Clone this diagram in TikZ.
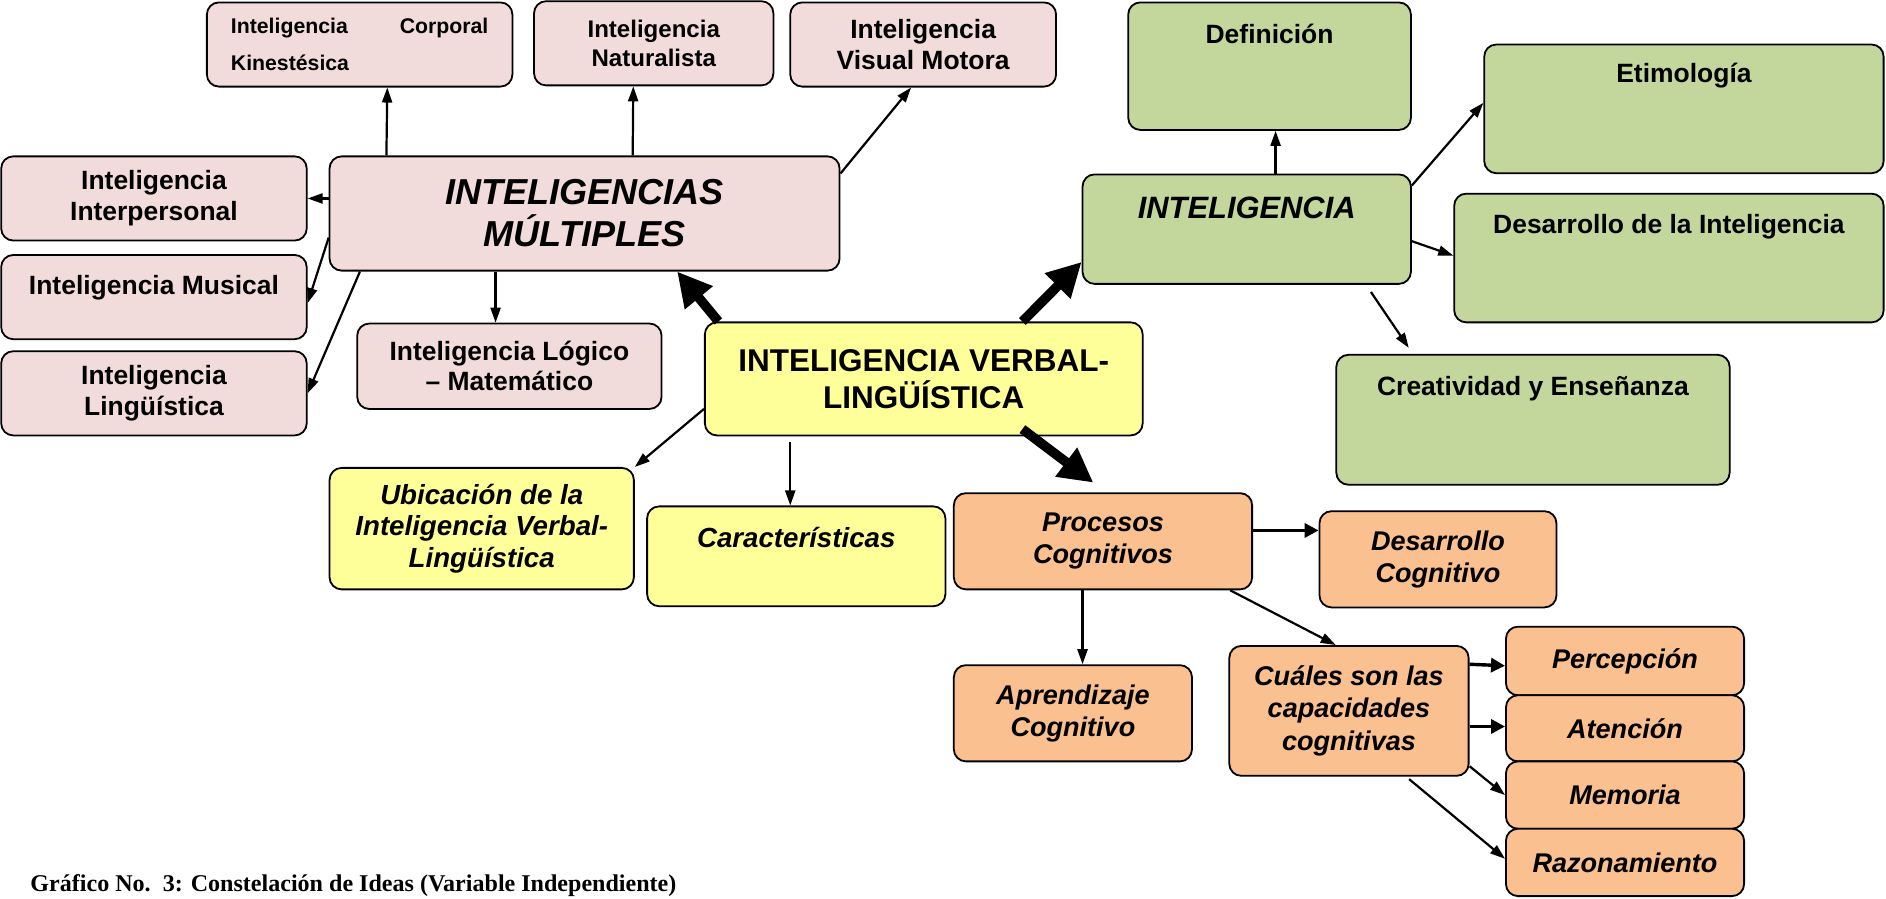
\documentclass[tikz,border=0pt]{standalone}
\usepackage{fontspec}
\setmainfont{Liberation Sans}
\newfontfamily\captionserif{Liberation Serif}
\usetikzlibrary{positioning,arrows.meta}

\definecolor{pinkfill}{HTML}{F2DCDB}
\definecolor{yellowfill}{HTML}{FFFF99}
\definecolor{greenfill}{HTML}{C3D69B}
\definecolor{orangefill}{HTML}{FAC090}

\begin{document}
\begin{tikzpicture}[x=0.6pt, y=-0.6pt,
			idea/.style = {draw, line width=0.9pt, rounded corners=6pt,
				align=center, inner sep=0pt,
				font=\bfseries\fontsize{13.2}{15.6}\selectfont},
			pinkbox/.style = {idea, fill=pinkfill},
			yellowbox/.style = {idea, fill=yellowfill,
				font=\bfseries\itshape\fontsize{13.8}{15.9}\selectfont},
			greenbox/.style = {idea, fill=greenfill},
			orangebox/.style = {idea, fill=orangefill,
				font=\bfseries\itshape\fontsize{13.5}{16}\selectfont},
			toptext/.style 2 args = {text height=#1, text depth=#2},
			link/.style = {line width=1.1pt, -{Triangle[length=7.5pt,width=5pt]}},
			boldlink/.style = {line width=1.7pt, -{Triangle[length=7pt,width=7pt]}},
			mainlink/.style = {line width=4.8pt, -{Triangle[length=17pt,width=17pt]}}]
			\path[use as bounding box, clip] (0,0) rectangle (1568,747);

			% inteligencias multiples
			\node[pinkbox, minimum width=152.4pt, minimum height=42pt,
				text width=128.4pt, align=justify,
				font=\bfseries\fontsize{10.6}{18.6}\selectfont] (kin) at (299,37)
				{Inteligencia\hfill Corporal\\Kinestésica};
			\node[pinkbox, minimum width=119.4pt, minimum height=42pt,
				font=\bfseries\fontsize{12}{14.6}\selectfont] (nat) at (543.5,36)
				{Inteligencia\\Naturalista};
			\node[pinkbox, minimum width=132.6pt, minimum height=42pt] (vis) at (767.5,37)
				{Inteligencia\\Visual Motora};
			\node[pinkbox, minimum width=152.4pt, minimum height=42pt] (inter) at (128,165)
				{Inteligencia\\Interpersonal};
			\node[pinkbox, minimum width=152.4pt, toptext={19.8pt}{22.2pt}] (mus) at (128,247)
				{Inteligencia Musical};
			\node[pinkbox, minimum width=152.4pt, minimum height=42pt] (ling) at (128,327)
				{Inteligencia\\Lingüística};
			\node[pinkbox, minimum width=254.4pt, minimum height=57pt,
				font=\bfseries\itshape\fontsize{18}{21}\selectfont] (mult) at (486,177.5)
				{INTELIGENCIAS\\MÚLTIPLES};
			\node[pinkbox, minimum width=151.8pt, minimum height=42.6pt,
				font=\bfseries\fontsize{13.2}{15}\selectfont] (log) at (423.5,304.5)
				{Inteligencia Lógico\\– Matemático};

			% centro
			\node[yellowbox, minimum width=218.4pt, minimum height=56.4pt,
				font=\bfseries\fontsize{15.7}{18.6}\selectfont] (verb) at (768,315)
				{INTELIGENCIA VERBAL-\\LINGÜÍSTICA};
			\node[yellowbox, minimum width=151.8pt, minimum height=60.6pt] (ubic) at (400.5,439.5)
				{Ubicación de la\\Inteligencia Verbal-\\Lingüística};
			\node[yellowbox, minimum width=148.8pt, toptext={20.4pt}{29.4pt}] (carac) at (662,462.5)
				{Características};

			% inteligencia
			\node[greenbox, minimum width=141pt, toptext={20.4pt}{43.2pt}] (def) at (1055.5,55)
				{Definición};
			\node[greenbox, minimum width=199.2pt, toptext={19.2pt}{45pt}] (etim) at (1400,90.5)
				{Etimología};
			\node[greenbox, minimum width=163.8pt, toptext={22.2pt}{32.4pt},
				font=\bfseries\itshape\fontsize{15.4}{18}\selectfont] (intel) at (1036.5,190.5)
				{INTELIGENCIA};
			\node[greenbox, minimum width=214.2pt, toptext={19.8pt}{44.4pt}] (desa) at (1387.5,214.5)
				{Desarrollo de la Inteligencia};
			\node[greenbox, minimum width=196.2pt, toptext={20.4pt}{44.4pt}] (crea) at (1274.5,349)
				{Creatividad y Enseñanza};

			% procesos cognitivos
			\node[orangebox, minimum width=148.8pt, minimum height=48pt] (proc) at (917,450)
				{Procesos\\Cognitivos};
			\node[orangebox, minimum width=118.2pt, minimum height=48pt] (desc) at (1195.5,465)
				{Desarrollo\\Cognitivo};
			\node[orangebox, minimum width=118.8pt, minimum height=48pt] (apre) at (892,593)
				{Aprendizaje\\Cognitivo};
			\node[orangebox, minimum width=119.4pt, minimum height=64.8pt] (cual) at (1121.5,591)
				{Cuáles son las\\capacidades\\cognitivas};
			\node[orangebox, minimum width=118.8pt, minimum height=34.2pt] (perc) at (1351,549.5) {Percepción};
			\node[orangebox, minimum width=118.8pt, minimum height=33pt] (aten) at (1351,605.5) {Atención};
			\node[orangebox, minimum width=118.8pt, minimum height=33.6pt] (memo) at (1351,661) {Memoria};
			\node[orangebox, minimum width=118.8pt, minimum height=33.6pt] (razo) at (1351,717) {Razonamiento};

			\node[anchor=base west, inner sep=0pt,
				font=\captionserif\bfseries\fontsize{12}{14}\selectfont] (caption) at (25,741)
				{Gráfico No.\ \ 3: Constelación de Ideas (Variable Independiente)};

			% flechas
			\draw[link] ([shift={(48,0)}]mult.north west) -- ([shift={(23,0)}]kin.south);
			\draw[link] ([shift={(40,0)}]mult.north) -- ([shift={(-17,0)}]nat.south);
			\draw[link] ([shift={(0,15)}]mult.north east) -- ([shift={(-10,0)}]vis.south);
			\draw[link] (mult.west |- inter.east) -- (inter.east);
			\draw[link] ([shift={(0,20)}]mult.west) -- ([shift={(0,5)}]mus.east);
			\draw[link] ([shift={(26,0)}]mult.south west) -- (ling.east);
			\draw[link] ([shift={(-74,0)}]mult.south) -- ([shift={(-11.5,0)}]log.north);

			\draw[mainlink] ([shift={(12,0)}]verb.north west) -- ([shift={(77,0)}]mult.south);
			\draw[mainlink] ([shift={(82,0)}]verb.north) -- ([shift={(0,-19)}]intel.south west);
			\draw[mainlink] ([shift={(82,-6)}]verb.south) -- ([shift={(-8,-8)}]proc.north);
			\draw[link] ([shift={(0,25)}]verb.west) -- (ubic.north east);
			\draw[link] ([shift={(-111,5)}]verb.south) -- ([shift={(-5,0)}]carac.north);

			\draw[link] ([shift={(24,0)}]intel.north) -- ([shift={(5,0)}]def.south);
			\draw[link] ([shift={(0,10)}]intel.north east) -- ([shift={(0,-5)}]etim.west);
			\draw[link] ([shift={(0,10)}]intel.east) -- ([shift={(0,-2)}]desa.west);
			\draw[link] ([shift={(-34,6)}]intel.south east) -- ([shift={(61,-5)}]crea.north west);

			\draw[boldlink] ([shift={(0,-9)}]proc.east) -- ([shift={(0,-24)}]desc.west);
			\draw[link] ([shift={(-17,0)}]proc.south) -- ([shift={(8,0)}]apre.north);
			\draw[link] ([shift={(-19,0)}]proc.south east) -- ([shift={(-11,0)}]cual.north);
			\draw[boldlink] ([shift={(0,16)}]cual.north east) -- ([shift={(0,4)}]perc.west);
			\draw[boldlink] ([shift={(0,13)}]cual.east) -- ([shift={(0,-1.5)}]aten.west);
			\draw[link] ([shift={(0,46)}]cual.east) -- (memo.west);
			\draw[link] ([shift={(50,2)}]cual.south) -- ([shift={(0,-3)}]razo.west);
			\end{tikzpicture}
\end{document}
